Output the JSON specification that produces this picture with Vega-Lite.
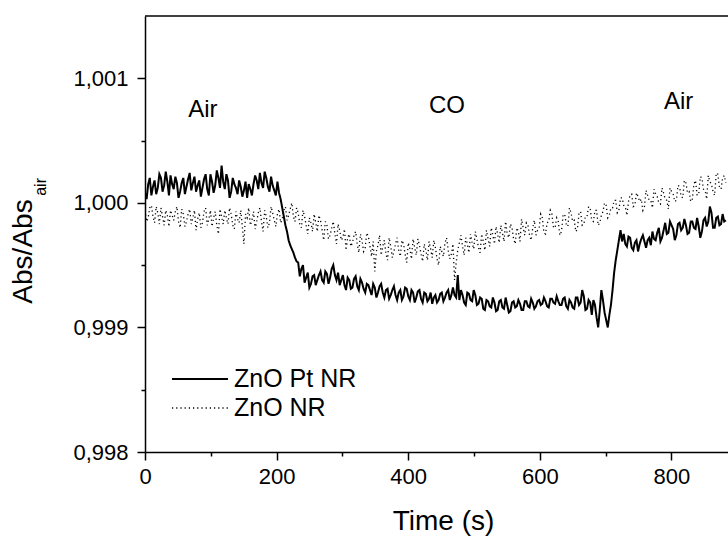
{
"$schema": "https://vega.github.io/schema/vega-lite/v6.json",
"width": 583, "height": 436,
"autosize": {"type": "none"},
"padding": {"left": 145, "top": 16, "right": 0, "bottom": 84},
"background": "white",
"config": {"font": "Liberation Sans", "view": {"stroke": null}},
"datasets": {
"curves": [
{"t":0,"ZnO Pt NR":1.00008,"ZnO NR":0.99994},
{"t":2.43,"ZnO Pt NR":1.00003,"ZnO NR":0.99985},
{"t":4.85,"ZnO Pt NR":1.00015,"ZnO NR":0.99988},
{"t":7.28,"ZnO Pt NR":1.0002,"ZnO NR":0.99996},
{"t":9.7,"ZnO Pt NR":1.00006,"ZnO NR":0.99998},
{"t":12.13,"ZnO Pt NR":1.00013,"ZnO NR":0.99989},
{"t":14.55,"ZnO Pt NR":1.00018,"ZnO NR":0.99984},
{"t":16.98,"ZnO Pt NR":1.00007,"ZnO NR":0.99997},
{"t":19.4,"ZnO Pt NR":1.00012,"ZnO NR":0.99992},
{"t":21.83,"ZnO Pt NR":1.00023,"ZnO NR":0.99983},
{"t":24.25,"ZnO Pt NR":1.0002,"ZnO NR":0.99996},
{"t":26.68,"ZnO Pt NR":1.00009,"ZnO NR":0.99989},
{"t":29.1,"ZnO Pt NR":1.00014,"ZnO NR":0.99982},
{"t":31.53,"ZnO Pt NR":1.00025,"ZnO NR":0.99994},
{"t":33.95,"ZnO Pt NR":1.00017,"ZnO NR":0.9999},
{"t":36.38,"ZnO Pt NR":1.00006,"ZnO NR":0.99981},
{"t":38.8,"ZnO Pt NR":1.00022,"ZnO NR":0.99994},
{"t":41.23,"ZnO Pt NR":1.00015,"ZnO NR":0.9999},
{"t":43.65,"ZnO Pt NR":1.00011,"ZnO NR":0.99986},
{"t":46.08,"ZnO Pt NR":1.00021,"ZnO NR":0.99993},
{"t":48.5,"ZnO Pt NR":1.00016,"ZnO NR":0.99997},
{"t":50.93,"ZnO Pt NR":1.00004,"ZnO NR":0.99985},
{"t":53.35,"ZnO Pt NR":1.00009,"ZnO NR":0.9998},
{"t":55.78,"ZnO Pt NR":1.00016,"ZnO NR":0.99995},
{"t":58.2,"ZnO Pt NR":1.0002,"ZnO NR":0.99991},
{"t":60.63,"ZnO Pt NR":1.00007,"ZnO NR":0.99981},
{"t":63.05,"ZnO Pt NR":1.00013,"ZnO NR":0.99985},
{"t":65.48,"ZnO Pt NR":1.00019,"ZnO NR":0.99991},
{"t":67.9,"ZnO Pt NR":1.00024,"ZnO NR":0.99995},
{"t":70.33,"ZnO Pt NR":1.0001,"ZnO NR":0.99983},
{"t":72.75,"ZnO Pt NR":1.00016,"ZnO NR":0.99988},
{"t":75.18,"ZnO Pt NR":1.00021,"ZnO NR":0.99994},
{"t":77.6,"ZnO Pt NR":1.00009,"ZnO NR":0.99978},
{"t":80.03,"ZnO Pt NR":1.00014,"ZnO NR":0.99987},
{"t":82.45,"ZnO Pt NR":1.00018,"ZnO NR":0.99992},
{"t":84.88,"ZnO Pt NR":1.00005,"ZnO NR":0.9998},
{"t":87.3,"ZnO Pt NR":1.00012,"ZnO NR":0.99984},
{"t":89.73,"ZnO Pt NR":1.00019,"ZnO NR":0.99993},
{"t":92.15,"ZnO Pt NR":1.00023,"ZnO NR":0.99996},
{"t":94.58,"ZnO Pt NR":1.00011,"ZnO NR":0.99982},
{"t":97,"ZnO Pt NR":1.00006,"ZnO NR":0.99987},
{"t":99.43,"ZnO Pt NR":1.00023,"ZnO NR":0.99994},
{"t":101.85,"ZnO Pt NR":1.00017,"ZnO NR":0.99981},
{"t":104.28,"ZnO Pt NR":1.00008,"ZnO NR":0.99988},
{"t":106.7,"ZnO Pt NR":1.00014,"ZnO NR":0.99993},
{"t":109.13,"ZnO Pt NR":1.00026,"ZnO NR":0.99982},
{"t":111.55,"ZnO Pt NR":1.0002,"ZnO NR":0.99975},
{"t":113.98,"ZnO Pt NR":1.00012,"ZnO NR":0.99995},
{"t":116.4,"ZnO Pt NR":1.0003,"ZnO NR":0.99989},
{"t":118.83,"ZnO Pt NR":1.00017,"ZnO NR":0.99983},
{"t":121.25,"ZnO Pt NR":1.00011,"ZnO NR":0.99994},
{"t":123.68,"ZnO Pt NR":1.00023,"ZnO NR":0.99988},
{"t":126.1,"ZnO Pt NR":1.00018,"ZnO NR":0.99983},
{"t":128.53,"ZnO Pt NR":1.00004,"ZnO NR":0.99996},
{"t":130.95,"ZnO Pt NR":1.00009,"ZnO NR":0.99991},
{"t":133.38,"ZnO Pt NR":1.0002,"ZnO NR":0.99982},
{"t":135.8,"ZnO Pt NR":1.00015,"ZnO NR":0.99979},
{"t":138.23,"ZnO Pt NR":1.00012,"ZnO NR":0.99993},
{"t":140.65,"ZnO Pt NR":1.00007,"ZnO NR":0.99987},
{"t":143.08,"ZnO Pt NR":1.00018,"ZnO NR":0.99984},
{"t":145.5,"ZnO Pt NR":1.00013,"ZnO NR":0.99994},
{"t":147.93,"ZnO Pt NR":1.00005,"ZnO NR":0.99981},
{"t":150.35,"ZnO Pt NR":1.0001,"ZnO NR":0.99967},
{"t":152.78,"ZnO Pt NR":1.00017,"ZnO NR":0.99991},
{"t":155.2,"ZnO Pt NR":1.00004,"ZnO NR":0.99988},
{"t":157.63,"ZnO Pt NR":1.00015,"ZnO NR":0.99996},
{"t":160.05,"ZnO Pt NR":1.00011,"ZnO NR":0.99982},
{"t":162.48,"ZnO Pt NR":1.00006,"ZnO NR":0.99986},
{"t":164.9,"ZnO Pt NR":1.00015,"ZnO NR":0.99993},
{"t":167.33,"ZnO Pt NR":1.00022,"ZnO NR":0.99979},
{"t":169.75,"ZnO Pt NR":1.00018,"ZnO NR":0.99985},
{"t":172.18,"ZnO Pt NR":1.00011,"ZnO NR":0.99992},
{"t":174.6,"ZnO Pt NR":1.00024,"ZnO NR":0.99996},
{"t":177.03,"ZnO Pt NR":1.00016,"ZnO NR":0.99985},
{"t":179.45,"ZnO Pt NR":1.00012,"ZnO NR":0.99977},
{"t":181.88,"ZnO Pt NR":1.00025,"ZnO NR":0.99994},
{"t":184.3,"ZnO Pt NR":1.0002,"ZnO NR":0.99989},
{"t":186.73,"ZnO Pt NR":1.00013,"ZnO NR":0.9998},
{"t":189.15,"ZnO Pt NR":1.00009,"ZnO NR":0.99984},
{"t":191.58,"ZnO Pt NR":1.00021,"ZnO NR":0.99997},
{"t":194,"ZnO Pt NR":1.00014,"ZnO NR":0.99992},
{"t":196.43,"ZnO Pt NR":1.0001,"ZnO NR":0.99986},
{"t":198.85,"ZnO Pt NR":1.00006,"ZnO NR":0.99981},
{"t":201.28,"ZnO Pt NR":1.00017,"ZnO NR":0.99991},
{"t":203.7,"ZnO Pt NR":1.00008,"ZnO NR":0.99995},
{"t":206.13,"ZnO Pt NR":1.00003,"ZnO NR":0.99984},
{"t":208.55,"ZnO Pt NR":0.99996,"ZnO NR":0.99987},
{"t":210.98,"ZnO Pt NR":0.99989,"ZnO NR":0.99994},
{"t":213.4,"ZnO Pt NR":0.99982,"ZnO NR":0.99997},
{"t":215.83,"ZnO Pt NR":0.99977,"ZnO NR":0.99986},
{"t":218.25,"ZnO Pt NR":0.9997,"ZnO NR":0.9999},
{"t":220.68,"ZnO Pt NR":0.99966,"ZnO NR":0.99995},
{"t":223.1,"ZnO Pt NR":0.99963,"ZnO NR":1.0},
{"t":225.53,"ZnO Pt NR":0.9996,"ZnO NR":0.99989},
{"t":227.95,"ZnO Pt NR":0.99956,"ZnO NR":0.99985},
{"t":230.38,"ZnO Pt NR":0.99953,"ZnO NR":0.99996},
{"t":232.8,"ZnO Pt NR":0.99952,"ZnO NR":0.99992},
{"t":235.23,"ZnO Pt NR":0.99941,"ZnO NR":0.99983},
{"t":237.65,"ZnO Pt NR":0.99947,"ZnO NR":0.9998},
{"t":240.08,"ZnO Pt NR":0.9995,"ZnO NR":0.99994},
{"t":242.5,"ZnO Pt NR":0.99936,"ZnO NR":0.99989},
{"t":244.93,"ZnO Pt NR":0.9994,"ZnO NR":0.99982},
{"t":247.35,"ZnO Pt NR":0.99944,"ZnO NR":0.99975},
{"t":249.78,"ZnO Pt NR":0.99932,"ZnO NR":0.99988},
{"t":252.2,"ZnO Pt NR":0.99935,"ZnO NR":0.99984},
{"t":254.63,"ZnO Pt NR":0.99941,"ZnO NR":0.99977},
{"t":257.05,"ZnO Pt NR":0.99942,"ZnO NR":0.99991},
{"t":259.48,"ZnO Pt NR":0.99934,"ZnO NR":0.99984},
{"t":261.9,"ZnO Pt NR":0.99938,"ZnO NR":0.99977},
{"t":264.33,"ZnO Pt NR":0.99942,"ZnO NR":0.9999},
{"t":266.75,"ZnO Pt NR":0.99945,"ZnO NR":0.99986},
{"t":269.18,"ZnO Pt NR":0.99938,"ZnO NR":0.99978},
{"t":271.6,"ZnO Pt NR":0.99936,"ZnO NR":0.9997},
{"t":274.03,"ZnO Pt NR":0.99945,"ZnO NR":0.99985},
{"t":276.45,"ZnO Pt NR":0.99943,"ZnO NR":0.99982},
{"t":278.88,"ZnO Pt NR":0.99935,"ZnO NR":0.99971},
{"t":281.3,"ZnO Pt NR":0.9994,"ZnO NR":0.99974},
{"t":283.73,"ZnO Pt NR":0.99947,"ZnO NR":0.9998},
{"t":286.15,"ZnO Pt NR":0.9995,"ZnO NR":0.99985},
{"t":288.58,"ZnO Pt NR":0.99942,"ZnO NR":0.99975},
{"t":291,"ZnO Pt NR":0.99938,"ZnO NR":0.99967},
{"t":293.43,"ZnO Pt NR":0.99944,"ZnO NR":0.99983},
{"t":295.85,"ZnO Pt NR":0.99934,"ZnO NR":0.99978},
{"t":298.28,"ZnO Pt NR":0.99938,"ZnO NR":0.9997},
{"t":300.7,"ZnO Pt NR":0.99942,"ZnO NR":0.99972},
{"t":303.13,"ZnO Pt NR":0.99934,"ZnO NR":0.99979},
{"t":305.55,"ZnO Pt NR":0.9993,"ZnO NR":0.99962},
{"t":307.98,"ZnO Pt NR":0.9994,"ZnO NR":0.99972},
{"t":310.4,"ZnO Pt NR":0.99938,"ZnO NR":0.99975},
{"t":312.83,"ZnO Pt NR":0.99931,"ZnO NR":0.99965},
{"t":315.25,"ZnO Pt NR":0.99932,"ZnO NR":0.99968},
{"t":317.68,"ZnO Pt NR":0.99939,"ZnO NR":0.99974},
{"t":320.1,"ZnO Pt NR":0.99941,"ZnO NR":0.99977},
{"t":322.53,"ZnO Pt NR":0.99933,"ZnO NR":0.99967},
{"t":324.95,"ZnO Pt NR":0.9993,"ZnO NR":0.9996},
{"t":327.38,"ZnO Pt NR":0.99939,"ZnO NR":0.99975},
{"t":329.8,"ZnO Pt NR":0.99936,"ZnO NR":0.9997},
{"t":332.23,"ZnO Pt NR":0.99931,"ZnO NR":0.99961},
{"t":334.65,"ZnO Pt NR":0.99928,"ZnO NR":0.99964},
{"t":337.08,"ZnO Pt NR":0.99935,"ZnO NR":0.99976},
{"t":339.5,"ZnO Pt NR":0.99934,"ZnO NR":0.99973},
{"t":341.93,"ZnO Pt NR":0.9993,"ZnO NR":0.99965},
{"t":344.35,"ZnO Pt NR":0.99926,"ZnO NR":0.99957},
{"t":346.78,"ZnO Pt NR":0.99935,"ZnO NR":0.99969},
{"t":349.2,"ZnO Pt NR":0.99932,"ZnO NR":0.99945},
{"t":351.63,"ZnO Pt NR":0.99924,"ZnO NR":0.99961},
{"t":354.05,"ZnO Pt NR":0.99928,"ZnO NR":0.99966},
{"t":356.48,"ZnO Pt NR":0.99933,"ZnO NR":0.99974},
{"t":358.9,"ZnO Pt NR":0.99935,"ZnO NR":0.99958},
{"t":361.33,"ZnO Pt NR":0.99928,"ZnO NR":0.99965},
{"t":363.75,"ZnO Pt NR":0.99924,"ZnO NR":0.9997},
{"t":366.18,"ZnO Pt NR":0.9993,"ZnO NR":0.99959},
{"t":368.6,"ZnO Pt NR":0.99931,"ZnO NR":0.99954},
{"t":371.03,"ZnO Pt NR":0.99923,"ZnO NR":0.99972},
{"t":373.45,"ZnO Pt NR":0.99926,"ZnO NR":0.99965},
{"t":375.88,"ZnO Pt NR":0.9993,"ZnO NR":0.99956},
{"t":378.3,"ZnO Pt NR":0.99933,"ZnO NR":0.99961},
{"t":380.73,"ZnO Pt NR":0.99926,"ZnO NR":0.99967},
{"t":383.15,"ZnO Pt NR":0.99922,"ZnO NR":0.99972},
{"t":385.58,"ZnO Pt NR":0.99928,"ZnO NR":0.99962},
{"t":388,"ZnO Pt NR":0.9993,"ZnO NR":0.99957},
{"t":390.43,"ZnO Pt NR":0.99922,"ZnO NR":0.9997},
{"t":392.85,"ZnO Pt NR":0.99925,"ZnO NR":0.99967},
{"t":395.28,"ZnO Pt NR":0.99932,"ZnO NR":0.99959},
{"t":397.7,"ZnO Pt NR":0.99931,"ZnO NR":0.99952},
{"t":400.13,"ZnO Pt NR":0.99925,"ZnO NR":0.99968},
{"t":402.55,"ZnO Pt NR":0.99922,"ZnO NR":0.99963},
{"t":404.98,"ZnO Pt NR":0.9993,"ZnO NR":0.99955},
{"t":407.4,"ZnO Pt NR":0.99928,"ZnO NR":0.99971},
{"t":409.83,"ZnO Pt NR":0.9992,"ZnO NR":0.99964},
{"t":412.25,"ZnO Pt NR":0.99924,"ZnO NR":0.99958},
{"t":414.68,"ZnO Pt NR":0.99929,"ZnO NR":0.99971},
{"t":417.1,"ZnO Pt NR":0.9993,"ZnO NR":0.99966},
{"t":419.53,"ZnO Pt NR":0.99923,"ZnO NR":0.99959},
{"t":421.95,"ZnO Pt NR":0.9992,"ZnO NR":0.99953},
{"t":424.38,"ZnO Pt NR":0.99928,"ZnO NR":0.99967},
{"t":426.8,"ZnO Pt NR":0.99927,"ZnO NR":0.99962},
{"t":429.23,"ZnO Pt NR":0.99921,"ZnO NR":0.99954},
{"t":431.65,"ZnO Pt NR":0.99923,"ZnO NR":0.99969},
{"t":434.08,"ZnO Pt NR":0.99928,"ZnO NR":0.99963},
{"t":436.5,"ZnO Pt NR":0.99919,"ZnO NR":0.99956},
{"t":438.93,"ZnO Pt NR":0.99924,"ZnO NR":0.9997},
{"t":441.35,"ZnO Pt NR":0.99926,"ZnO NR":0.99964},
{"t":443.78,"ZnO Pt NR":0.9992,"ZnO NR":0.99955},
{"t":446.2,"ZnO Pt NR":0.99922,"ZnO NR":0.9995},
{"t":448.63,"ZnO Pt NR":0.99927,"ZnO NR":0.99965},
{"t":451.05,"ZnO Pt NR":0.99928,"ZnO NR":0.99961},
{"t":453.48,"ZnO Pt NR":0.99921,"ZnO NR":0.99957},
{"t":455.9,"ZnO Pt NR":0.99924,"ZnO NR":0.99968},
{"t":458.33,"ZnO Pt NR":0.99928,"ZnO NR":0.99972},
{"t":460.75,"ZnO Pt NR":0.9993,"ZnO NR":0.99962},
{"t":463.18,"ZnO Pt NR":0.99922,"ZnO NR":0.99955},
{"t":465.6,"ZnO Pt NR":0.99926,"ZnO NR":0.99959},
{"t":468.03,"ZnO Pt NR":0.99932,"ZnO NR":0.99967},
{"t":470.45,"ZnO Pt NR":0.99926,"ZnO NR":0.99938},
{"t":472.88,"ZnO Pt NR":0.99924,"ZnO NR":0.99952},
{"t":475.3,"ZnO Pt NR":0.99942,"ZnO NR":0.99962},
{"t":477.73,"ZnO Pt NR":0.99922,"ZnO NR":0.99968},
{"t":480.15,"ZnO Pt NR":0.9993,"ZnO NR":0.99974},
{"t":482.58,"ZnO Pt NR":0.99926,"ZnO NR":0.99965},
{"t":485,"ZnO Pt NR":0.9992,"ZnO NR":0.99958},
{"t":487.43,"ZnO Pt NR":0.99918,"ZnO NR":0.99972},
{"t":489.85,"ZnO Pt NR":0.99928,"ZnO NR":0.99967},
{"t":492.28,"ZnO Pt NR":0.99927,"ZnO NR":0.9996},
{"t":494.7,"ZnO Pt NR":0.99922,"ZnO NR":0.99975},
{"t":497.13,"ZnO Pt NR":0.99921,"ZnO NR":0.99968},
{"t":499.55,"ZnO Pt NR":0.9993,"ZnO NR":0.99963},
{"t":501.98,"ZnO Pt NR":0.99926,"ZnO NR":0.99977},
{"t":504.4,"ZnO Pt NR":0.99918,"ZnO NR":0.99971},
{"t":506.83,"ZnO Pt NR":0.99919,"ZnO NR":0.99964},
{"t":509.25,"ZnO Pt NR":0.99924,"ZnO NR":0.9996},
{"t":511.68,"ZnO Pt NR":0.99923,"ZnO NR":0.99975},
{"t":514.1,"ZnO Pt NR":0.99915,"ZnO NR":0.99969},
{"t":516.53,"ZnO Pt NR":0.99914,"ZnO NR":0.99962},
{"t":518.95,"ZnO Pt NR":0.99922,"ZnO NR":0.99978},
{"t":521.38,"ZnO Pt NR":0.99921,"ZnO NR":0.99971},
{"t":523.8,"ZnO Pt NR":0.99917,"ZnO NR":0.99965},
{"t":526.23,"ZnO Pt NR":0.99916,"ZnO NR":0.9998},
{"t":528.65,"ZnO Pt NR":0.99924,"ZnO NR":0.99974},
{"t":531.08,"ZnO Pt NR":0.9992,"ZnO NR":0.99967},
{"t":533.5,"ZnO Pt NR":0.99913,"ZnO NR":0.99981},
{"t":535.93,"ZnO Pt NR":0.99914,"ZnO NR":0.99975},
{"t":538.35,"ZnO Pt NR":0.99921,"ZnO NR":0.99968},
{"t":540.78,"ZnO Pt NR":0.99922,"ZnO NR":0.99982},
{"t":543.2,"ZnO Pt NR":0.99916,"ZnO NR":0.99976},
{"t":545.63,"ZnO Pt NR":0.99915,"ZnO NR":0.99969},
{"t":548.05,"ZnO Pt NR":0.99924,"ZnO NR":0.99985},
{"t":550.48,"ZnO Pt NR":0.99918,"ZnO NR":0.99975},
{"t":552.9,"ZnO Pt NR":0.99912,"ZnO NR":0.99972},
{"t":555.33,"ZnO Pt NR":0.99913,"ZnO NR":0.99983},
{"t":557.75,"ZnO Pt NR":0.9992,"ZnO NR":0.9998},
{"t":560.18,"ZnO Pt NR":0.99921,"ZnO NR":0.99971},
{"t":562.6,"ZnO Pt NR":0.99916,"ZnO NR":0.99967},
{"t":565.03,"ZnO Pt NR":0.99917,"ZnO NR":0.9998},
{"t":567.45,"ZnO Pt NR":0.99922,"ZnO NR":0.99977},
{"t":569.88,"ZnO Pt NR":0.99919,"ZnO NR":0.99969},
{"t":572.3,"ZnO Pt NR":0.99914,"ZnO NR":0.99987},
{"t":574.73,"ZnO Pt NR":0.99914,"ZnO NR":0.9998},
{"t":577.15,"ZnO Pt NR":0.99921,"ZnO NR":0.99974},
{"t":579.58,"ZnO Pt NR":0.99921,"ZnO NR":0.99984},
{"t":582,"ZnO Pt NR":0.99917,"ZnO NR":0.99982},
{"t":584.43,"ZnO Pt NR":0.99916,"ZnO NR":0.99974},
{"t":586.85,"ZnO Pt NR":0.99923,"ZnO NR":0.9997},
{"t":589.28,"ZnO Pt NR":0.9992,"ZnO NR":0.9998},
{"t":591.7,"ZnO Pt NR":0.99915,"ZnO NR":0.99986},
{"t":594.13,"ZnO Pt NR":0.99917,"ZnO NR":0.99974},
{"t":596.55,"ZnO Pt NR":0.99921,"ZnO NR":0.99978},
{"t":598.98,"ZnO Pt NR":0.99922,"ZnO NR":0.9998},
{"t":601.4,"ZnO Pt NR":0.99918,"ZnO NR":0.99991},
{"t":603.83,"ZnO Pt NR":0.99919,"ZnO NR":0.99988},
{"t":606.25,"ZnO Pt NR":0.99924,"ZnO NR":0.99976},
{"t":608.68,"ZnO Pt NR":0.99921,"ZnO NR":0.99975},
{"t":611.1,"ZnO Pt NR":0.99917,"ZnO NR":0.99984},
{"t":613.53,"ZnO Pt NR":0.99916,"ZnO NR":0.99985},
{"t":615.95,"ZnO Pt NR":0.99923,"ZnO NR":0.99994},
{"t":618.38,"ZnO Pt NR":0.99923,"ZnO NR":0.99991},
{"t":620.8,"ZnO Pt NR":0.9992,"ZnO NR":0.9998},
{"t":623.23,"ZnO Pt NR":0.99919,"ZnO NR":0.9998},
{"t":625.65,"ZnO Pt NR":0.99925,"ZnO NR":0.99988},
{"t":628.08,"ZnO Pt NR":0.99921,"ZnO NR":0.99985},
{"t":630.5,"ZnO Pt NR":0.99918,"ZnO NR":0.99974},
{"t":632.93,"ZnO Pt NR":0.99918,"ZnO NR":0.99977},
{"t":635.35,"ZnO Pt NR":0.99923,"ZnO NR":0.9999},
{"t":637.78,"ZnO Pt NR":0.99924,"ZnO NR":0.99991},
{"t":640.2,"ZnO Pt NR":0.99917,"ZnO NR":0.99983},
{"t":642.63,"ZnO Pt NR":0.99915,"ZnO NR":0.99981},
{"t":645.05,"ZnO Pt NR":0.99922,"ZnO NR":0.99996},
{"t":647.48,"ZnO Pt NR":0.9992,"ZnO NR":0.99992},
{"t":649.9,"ZnO Pt NR":0.99916,"ZnO NR":0.99985},
{"t":652.33,"ZnO Pt NR":0.99915,"ZnO NR":0.99986},
{"t":654.75,"ZnO Pt NR":0.99924,"ZnO NR":0.99977},
{"t":657.18,"ZnO Pt NR":0.99924,"ZnO NR":0.99979},
{"t":659.6,"ZnO Pt NR":0.99918,"ZnO NR":0.99992},
{"t":662.03,"ZnO Pt NR":0.9992,"ZnO NR":0.99993},
{"t":664.45,"ZnO Pt NR":0.9993,"ZnO NR":0.99982},
{"t":666.88,"ZnO Pt NR":0.99925,"ZnO NR":0.99983},
{"t":669.3,"ZnO Pt NR":0.99914,"ZnO NR":0.99989},
{"t":671.73,"ZnO Pt NR":0.99915,"ZnO NR":0.99989},
{"t":674.15,"ZnO Pt NR":0.99922,"ZnO NR":0.99997},
{"t":676.58,"ZnO Pt NR":0.9992,"ZnO NR":0.99995},
{"t":679,"ZnO Pt NR":0.9991,"ZnO NR":0.99986},
{"t":681.43,"ZnO Pt NR":0.99922,"ZnO NR":0.99985},
{"t":683.85,"ZnO Pt NR":0.99918,"ZnO NR":0.99994},
{"t":686.28,"ZnO Pt NR":0.99908,"ZnO NR":0.99994},
{"t":688.7,"ZnO Pt NR":0.999,"ZnO NR":0.99982},
{"t":691.13,"ZnO Pt NR":0.99914,"ZnO NR":0.99984},
{"t":693.55,"ZnO Pt NR":0.9993,"ZnO NR":0.9999},
{"t":695.98,"ZnO Pt NR":0.99922,"ZnO NR":0.99993},
{"t":698.4,"ZnO Pt NR":0.99912,"ZnO NR":1.0},
{"t":700.83,"ZnO Pt NR":0.99906,"ZnO NR":0.99998},
{"t":703.25,"ZnO Pt NR":0.999,"ZnO NR":0.99988},
{"t":705.68,"ZnO Pt NR":0.9991,"ZnO NR":0.9999},
{"t":708.1,"ZnO Pt NR":0.99918,"ZnO NR":0.99996},
{"t":710.53,"ZnO Pt NR":0.9993,"ZnO NR":0.99996},
{"t":712.95,"ZnO Pt NR":0.99944,"ZnO NR":1.00002},
{"t":715.38,"ZnO Pt NR":0.99954,"ZnO NR":1.00002},
{"t":717.8,"ZnO Pt NR":0.99962,"ZnO NR":0.99992},
{"t":720.23,"ZnO Pt NR":0.9997,"ZnO NR":0.99994},
{"t":722.65,"ZnO Pt NR":0.99978,"ZnO NR":1.00004},
{"t":725.08,"ZnO Pt NR":0.99969,"ZnO NR":1.00004},
{"t":727.5,"ZnO Pt NR":0.99975,"ZnO NR":0.99998},
{"t":729.93,"ZnO Pt NR":0.99967,"ZnO NR":0.99997},
{"t":732.35,"ZnO Pt NR":0.99965,"ZnO NR":0.9999},
{"t":734.78,"ZnO Pt NR":0.99973,"ZnO NR":1.00001},
{"t":737.2,"ZnO Pt NR":0.99972,"ZnO NR":1.00006},
{"t":739.63,"ZnO Pt NR":0.99964,"ZnO NR":1.00007},
{"t":742.05,"ZnO Pt NR":0.99962,"ZnO NR":0.99997},
{"t":744.48,"ZnO Pt NR":0.99968,"ZnO NR":0.99998},
{"t":746.9,"ZnO Pt NR":0.9997,"ZnO NR":1.00008},
{"t":749.33,"ZnO Pt NR":0.99961,"ZnO NR":1.00005},
{"t":751.75,"ZnO Pt NR":0.99967,"ZnO NR":1.00001},
{"t":754.18,"ZnO Pt NR":0.99971,"ZnO NR":1.00003},
{"t":756.6,"ZnO Pt NR":0.99974,"ZnO NR":0.99994},
{"t":759.03,"ZnO Pt NR":0.99969,"ZnO NR":0.99997},
{"t":761.45,"ZnO Pt NR":0.99964,"ZnO NR":1.0001},
{"t":763.88,"ZnO Pt NR":0.9997,"ZnO NR":1.00006},
{"t":766.3,"ZnO Pt NR":0.99972,"ZnO NR":1.00002},
{"t":768.73,"ZnO Pt NR":0.99966,"ZnO NR":1.00002},
{"t":771.15,"ZnO Pt NR":0.99977,"ZnO NR":0.99996},
{"t":773.58,"ZnO Pt NR":0.99971,"ZnO NR":1.00011},
{"t":776,"ZnO Pt NR":0.9997,"ZnO NR":1.00007},
{"t":778.43,"ZnO Pt NR":0.99976,"ZnO NR":1.00005},
{"t":780.85,"ZnO Pt NR":0.9998,"ZnO NR":1.0},
{"t":783.28,"ZnO Pt NR":0.99969,"ZnO NR":0.99999},
{"t":785.7,"ZnO Pt NR":0.99972,"ZnO NR":1.00012},
{"t":788.13,"ZnO Pt NR":0.99978,"ZnO NR":1.00008},
{"t":790.55,"ZnO Pt NR":0.99984,"ZnO NR":1.00003},
{"t":792.98,"ZnO Pt NR":0.99975,"ZnO NR":1.00002},
{"t":795.4,"ZnO Pt NR":0.99976,"ZnO NR":0.99995},
{"t":797.83,"ZnO Pt NR":0.99985,"ZnO NR":1.00012},
{"t":800.25,"ZnO Pt NR":0.99982,"ZnO NR":1.00009},
{"t":802.68,"ZnO Pt NR":0.99979,"ZnO NR":1.00007},
{"t":805.1,"ZnO Pt NR":0.9997,"ZnO NR":1.00001},
{"t":807.53,"ZnO Pt NR":0.99974,"ZnO NR":1.00002},
{"t":809.95,"ZnO Pt NR":0.99983,"ZnO NR":1.00014},
{"t":812.38,"ZnO Pt NR":0.99984,"ZnO NR":1.00013},
{"t":814.8,"ZnO Pt NR":0.99978,"ZnO NR":1.00005},
{"t":817.23,"ZnO Pt NR":0.9998,"ZnO NR":1.00004},
{"t":819.65,"ZnO Pt NR":0.99987,"ZnO NR":1.00018},
{"t":822.08,"ZnO Pt NR":0.99982,"ZnO NR":1.00016},
{"t":824.5,"ZnO Pt NR":0.99975,"ZnO NR":1.00008},
{"t":826.93,"ZnO Pt NR":0.99976,"ZnO NR":1.00009},
{"t":829.35,"ZnO Pt NR":0.99985,"ZnO NR":1.00001},
{"t":831.78,"ZnO Pt NR":0.99985,"ZnO NR":1.00003},
{"t":834.2,"ZnO Pt NR":0.9998,"ZnO NR":1.00015},
{"t":836.63,"ZnO Pt NR":0.99979,"ZnO NR":1.00018},
{"t":839.05,"ZnO Pt NR":0.99988,"ZnO NR":1.00006},
{"t":841.48,"ZnO Pt NR":0.99981,"ZnO NR":1.00007},
{"t":843.9,"ZnO Pt NR":0.99972,"ZnO NR":1.00021},
{"t":846.33,"ZnO Pt NR":0.99977,"ZnO NR":1.0002},
{"t":848.75,"ZnO Pt NR":0.99986,"ZnO NR":1.00011},
{"t":851.18,"ZnO Pt NR":0.99988,"ZnO NR":1.0001},
{"t":853.6,"ZnO Pt NR":0.99981,"ZnO NR":1.00003},
{"t":856.03,"ZnO Pt NR":0.99985,"ZnO NR":1.00022},
{"t":858.45,"ZnO Pt NR":0.99997,"ZnO NR":1.00017},
{"t":860.88,"ZnO Pt NR":0.99992,"ZnO NR":1.00015},
{"t":863.3,"ZnO Pt NR":0.9998,"ZnO NR":1.00009},
{"t":865.73,"ZnO Pt NR":0.9998,"ZnO NR":1.00006},
{"t":868.15,"ZnO Pt NR":0.99988,"ZnO NR":1.00024},
{"t":870.58,"ZnO Pt NR":0.99989,"ZnO NR":1.00023},
{"t":873,"ZnO Pt NR":0.99982,"ZnO NR":1.00013},
{"t":875.43,"ZnO Pt NR":0.99983,"ZnO NR":1.00011},
{"t":877.85,"ZnO Pt NR":0.99991,"ZnO NR":1.0002},
{"t":880.28,"ZnO Pt NR":0.99985,"ZnO NR":1.00022},
{"t":882.7,"ZnO Pt NR":0.99986,"ZnO NR":1.00016}
],
"notes": [
{"label":"Air","t":88,"v":1.000746},
{"label":"CO","t":459,"v":1.000778},
{"label":"Air","t":811,"v":1.00081}
],
"sub": [
{"label":"air","t":-158,"v":1.000128}
],
"frame": [
{"edge":1.0015}
]
},
"layer": [
{
"data": {"name": "frame"},
"mark": {"type": "rule", "color": "black", "strokeWidth": 1.5},
"encoding": {"y": {"field": "edge", "type": "quantitative"}}
},
{
"data": {"name": "curves"},
"transform": [{"fold": ["ZnO Pt NR", "ZnO NR"], "as": ["s", "v"]}],
"mark": {"type": "line", "clip": true, "color": "black", "strokeCap": "butt", "strokeJoin": "miter"},
"encoding": {
"x": {"field": "t", "type": "quantitative",
 "scale": {"domain": [0, 886], "nice": false, "zero": false},
 "axis": {"values": [0,100,200,300,400,500,600,700,800],
  "labelExpr": "datum.value % 200 == 0 ? datum.label : ''",
  "tickSize": {"condition": {"test": "datum.value % 200 == 0", "value": 8}, "value": 4},
  "labelFontSize": 22, "labelPadding": 6, "labelColor": "black", "labelFlush": false, "labelOverlap": false,
  "title": "Time (s)", "titleFontSize": 28, "titleFontWeight": "normal", "titleColor": "black",
  "titleX": 298, "titleY": 77, "titleBaseline": "alphabetic",
  "grid": false, "domainColor": "black", "domainWidth": 1.5, "tickColor": "black", "tickWidth": 1.5}},
"y": {"field": "v", "type": "quantitative",
 "scale": {"domain": [0.998, 1.0015], "nice": false, "zero": false},
 "axis": {"values": [0.998,0.9985,0.999,0.9995,1,1.0005,1.001],
  "labelExpr": "abs(datum.value*1000 - round(datum.value*1000)) < 0.01 ? replace(format(datum.value, '.3f'), '.', ',') : ''",
  "tickSize": {"condition": {"test": "abs(datum.value*1000 - round(datum.value*1000)) < 0.01", "value": 8}, "value": 4},
  "labelFontSize": 22, "labelPadding": 9, "labelColor": "black", "labelFlush": false, "labelOverlap": false,
  "title": "Abs/Abs", "titleFontSize": 28, "titleFontWeight": "normal", "titleColor": "black",
  "titleX": -114, "titleY": 235, "titleAngle": 270, "titleAlign": "center", "titleBaseline": "alphabetic",
  "grid": false, "domainColor": "black", "domainWidth": 1.5, "tickColor": "black", "tickWidth": 1.5}},
"strokeDash": {"field": "s", "type": "nominal",
 "scale": {"domain": ["ZnO Pt NR", "ZnO NR"], "range": [[1, 0], [1.2, 3]]},
 "legend": {"title": null, "orient": "none", "legendX": 40, "legendY": 348,
  "symbolType": "M-2,0H2", "symbolSize": 784, "symbolStrokeColor": "black",
  "labelFontSize": 25, "labelColor": "black", "labelOffset": 19, "rowPadding": 1, "padding": 0}},
"strokeWidth": {"field": "s", "type": "nominal",
 "scale": {"domain": ["ZnO Pt NR", "ZnO NR"], "range": [2, 1.3]}}
}
},
{
"data": {"name": "notes"},
"mark": {"type": "text", "fontSize": 24, "color": "black", "align": "center", "baseline": "middle"},
"encoding": {
"x": {"field": "t", "type": "quantitative"},
"y": {"field": "v", "type": "quantitative"},
"text": {"field": "label"}
}
},
{
"data": {"name": "sub"},
"mark": {"type": "text", "fontSize": 16, "color": "black", "angle": 270, "align": "center", "baseline": "middle"},
"encoding": {
"x": {"field": "t", "type": "quantitative"},
"y": {"field": "v", "type": "quantitative"},
"text": {"field": "label"}
}
}
]
}
